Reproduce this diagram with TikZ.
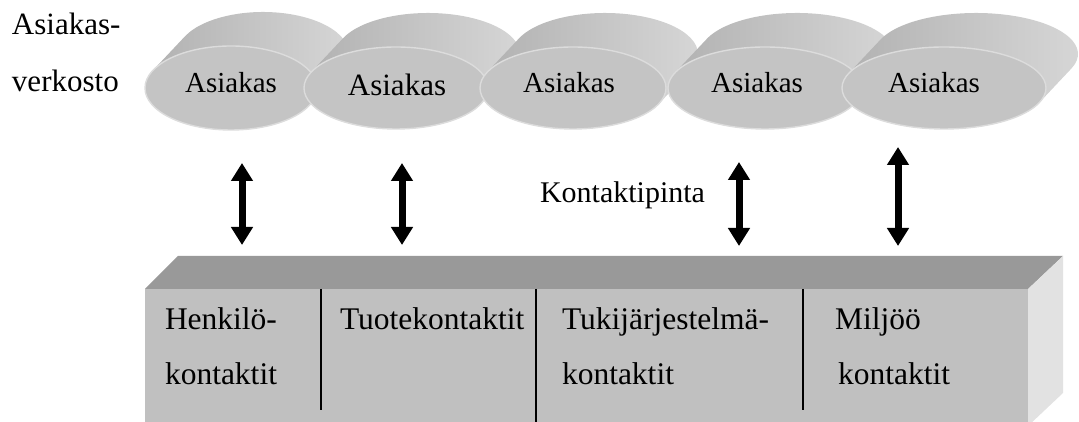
\documentclass[tikz,border=0pt]{standalone}
\usepackage{fontspec}
\setmainfont{Liberation Serif}
\usetikzlibrary{arrows.meta}

\definecolor{discfront}{HTML}{C4C4C4}
\definecolor{discrim}{HTML}{DCDCDC}
\definecolor{sideA}{HTML}{B2B2B2}
\definecolor{sideB}{HTML}{9C9C9C}
\definecolor{sideC}{HTML}{D8D8D8}
\definecolor{boxtop}{HTML}{999999}
\definecolor{boxfront}{HTML}{C0C0C0}
\definecolor{boxside}{HTML}{E2E2E2}

\tikzset{
  discside/.style={left color=sideA, middle color=sideB, right color=sideC},
  discface/.style={fill=discfront, draw=discrim, line width=1.4pt},
  label/.style={inner sep=0pt, outer sep=0pt, font=\fontsize{31}{37}\selectfont},
  disctext/.style={inner sep=0pt, outer sep=0pt, anchor=base, font=\fontsize{29}{35}\selectfont},
  divider/.style={line width=2pt, black},
  biarrow/.style={line width=7pt, black,
    {Triangle[length=18pt,width=21pt]}-{Triangle[length=18pt,width=21pt]}},
}

% depth of the extruded discs (towards the upper right)
\newcommand\discdx{32}
\newcommand\discdy{34}
% \drawdisc{cx}{cy}{rx}{ry}: extruded oval, side band first, then front face
\newcommand\drawdisc[4]{%
  \pgfmathsetmacro\discta{atan2(#4*\discdx, -#3*\discdy)}%
  \pgfmathsetmacro\disctb{\discta-180}%
  \pgfmathsetmacro\discpx{#1+#3*cos(\discta)}%
  \pgfmathsetmacro\discpy{#2+#4*sin(\discta)}%
  \shade[discside] (\discpx,\discpy) -- ++(\discdx,\discdy)
    arc[start angle=\discta, end angle=\disctb, x radius=#3, y radius=#4]
    -- ++(-\discdx,-\discdy)
    arc[start angle=\disctb, end angle=\discta, x radius=#3, y radius=#4] -- cycle;
  \path[discface] (#1,#2) ellipse[x radius=#3, y radius=#4];
}

\begin{document}
\begin{tikzpicture}[x=1pt,y=1pt]
\useasboundingbox (0,0) rectangle (1079,422);
\clip (0,0) rectangle (1079,422);

% customer network: five extruded ovals, left to right
\drawdisc{231}{334}{86}{42}
\drawdisc{396}{334}{92}{41}
\drawdisc{573}{334}{93}{41}
\drawdisc{765}{334}{97}{41}
\drawdisc{944}{334}{102}{41}

\node[disctext] (c1) at (231,329) {Asiakas};
\node[disctext, font=\fontsize{31}{37}\selectfont] (c2) at (397,326) {Asiakas};
\node[disctext] (c3) at (569,329) {Asiakas};
\node[disctext] (c4) at (757,329) {Asiakas};
\node[disctext] (c5) at (934,329) {Asiakas};

\node[label, anchor=base west] (net1) at (12,387) {Asiakas-};
\node[label, anchor=base west] (net2) at (12,330) {verkosto};

% contact surface block
\fill[boxtop] (145,133) -- (178,166) -- (1063,166) -- (1028,133) -- cycle;
\fill[boxside] (1028,133) -- (1063,166) -- (1063,29) -- (1028,-4) -- cycle;
\fill[boxfront] (145,133) rectangle (1028,-4);

\draw[divider] (321,133) -- (321,12);
\draw[divider] (536,133) -- (536,-4);
\draw[divider] (803,133) -- (803,12);

\node[label, anchor=base west, font=\fontsize{31.5}{37}\selectfont] (h1) at (165,92) {Henkilö-};
\node[label, anchor=base west, font=\fontsize{31.5}{37}\selectfont] (h2) at (165,37) {kontaktit};
\node[label, anchor=base west, font=\fontsize{31.5}{37}\selectfont] (t1) at (340,92) {Tuotekontaktit};
\node[label, anchor=base west, font=\fontsize{31.5}{37}\selectfont] (s1) at (562,92) {Tukijärjestelmä-};
\node[label, anchor=base west, font=\fontsize{31.5}{37}\selectfont] (s2) at (562,37) {kontaktit};
\node[label, anchor=base west, font=\fontsize{31.5}{37}\selectfont] (m1) at (835,92) {Miljöö};
\node[label, anchor=base west, font=\fontsize{31.5}{37}\selectfont] (m2) at (838,37) {kontaktit};

\node[label, anchor=base east, font=\fontsize{30}{36}\selectfont] (kp) at (705,219) {Kontaktipinta};

% two-way contacts between network and block
\coordinate (a1t) at (242,259); \coordinate (a1b) at (242,177);
\coordinate (a2t) at (402,259); \coordinate (a2b) at (402,177);
\coordinate (a3t) at (739,260); \coordinate (a3b) at (739,176);
\coordinate (a4t) at (898,275); \coordinate (a4b) at (898,176);
\draw[biarrow] (a1t) -- (a1b);
\draw[biarrow] (a2t) -- (a2b);
\draw[biarrow] (a3t) -- (a3b);
\draw[biarrow] (a4t) -- (a4b);
\end{tikzpicture}
\end{document}
